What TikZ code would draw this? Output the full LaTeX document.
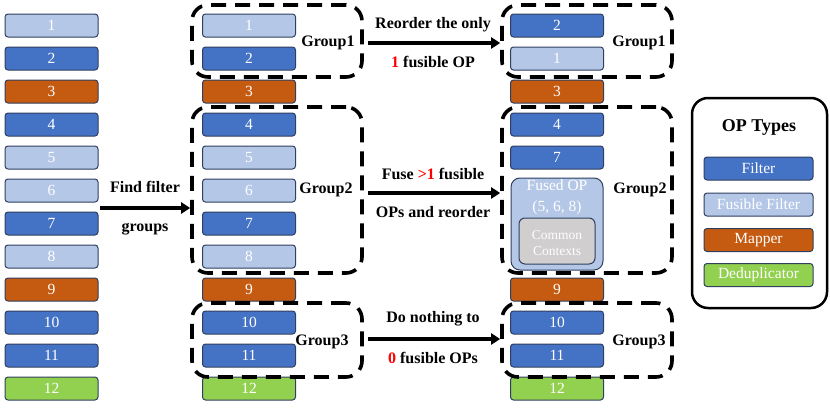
\documentclass[tikz,border=0pt]{standalone}
\usepackage{fontspec}
\setmainfont{Liberation Serif}
\usetikzlibrary{arrows.meta}
\definecolor{cfilter}{HTML}{4472C4}
\definecolor{cfus}{HTML}{B4C7E7}
\definecolor{cmap}{HTML}{C55A11}
\definecolor{cdedup}{HTML}{92D050}
\definecolor{cedge}{HTML}{2F3F5F}
\definecolor{cgray}{HTML}{D0CECE}
\begin{document}
\begin{tikzpicture}[x=1pt,y=-1pt,
 op/.style={draw=cedge, line width=1pt, rounded corners=3pt, minimum width=93pt, minimum height=23pt, inner sep=0pt, text=white, font=\fontsize{15.5}{15.5}\selectfont},
 filt/.style={op, fill=cfilter}, fus/.style={op, fill=cfus}, mapr/.style={op, fill=cmap}, dedup/.style={op, fill=cdedup},
 grp/.style={draw, line width=3.6pt, dash pattern=on 15pt off 9pt, rounded corners=16pt, minimum width=170pt, inner sep=0pt},
 lab/.style={font=\bfseries\fontsize{16}{16}\selectfont, inner sep=0pt},
 bigarrow/.style={line width=3.5pt, -{Triangle[length=9pt,width=11pt]}}]
\useasboundingbox (0,0) rectangle (830,410);
% left and middle columns
\foreach \i/\s in {1/fus,2/filt,3/mapr,4/filt,5/fus,6/fus,7/filt,8/fus,9/mapr,10/filt,11/filt,12/dedup}{
  \node[\s] (l\i) at (51.5,{25.5+33*(\i-1)}) {\i};
  \node[\s] (m\i) at (249,{25.5+33*(\i-1)}) {\i};
}
% right column
\node[filt] (r2) at (557,25.5) {2};
\node[fus] (r1) at (557,58.5) {1};
\node[mapr] (r3) at (557,91.5) {3};
\node[filt] (r4) at (557,124.5) {4};
\node[filt] (r7) at (557,157.5) {7};
\node[draw=cedge, fill=cfus, line width=1pt, rounded corners=9pt, minimum width=92pt, minimum height=92pt, inner sep=0pt] (fused) at (557,224) {};
\node[text=white, align=center, font=\fontsize{15.5}{21}\selectfont, inner sep=0pt] (fusedtxt) at (557,197) {Fused OP\\(5, 6, 8)};
\node[draw=cedge, fill=cgray, line width=1pt, rounded corners=6pt, minimum width=76pt, minimum height=46pt, inner sep=0pt] (common) at (557,241) {};
\node[text=white, align=center, font=\fontsize{13.5}{16}\selectfont, inner sep=0pt] (commontxt) at (557,243) {Common\\Contexts};
\node[mapr] (r9) at (557,289.5) {9};
\node[filt] (r10) at (557,322.5) {10};
\node[filt] (r11) at (557,355.5) {11};
\node[dedup] (r12) at (557,388.5) {12};
% groups
\node[grp, minimum height=72pt] (g1m) at (277,41) {};
\node[grp, minimum height=166pt] (g2m) at (277,190) {};
\node[grp, minimum height=74pt] (g3m) at (277,340) {};
\node[grp, minimum height=72pt] (g1r) at (587,41) {};
\node[grp, minimum height=166pt] (g2r) at (587,190) {};
\node[grp, minimum height=74pt] (g3r) at (587,340) {};
\node[lab] (t1m) at (328,43) {Group1};
\node[lab] (t2m) at (326,190) {Group2};
\node[lab] (t3m) at (322,342) {Group3};
\node[lab] (t1r) at (639,43) {Group1};
\node[lab] (t2r) at (640,190) {Group2};
\node[lab] (t3r) at (639,342) {Group3};
% arrows
\coordinate (fa) at (100,208);
\draw[bigarrow] (fa) -- (g2m.west |- fa);
\node[lab] (fa1) at (145,187) {Find filter};
\node[lab] (fa2) at (145,229) {groups};
\draw[bigarrow] (g1m.east) ++(4,2) coordinate (a1s) -- (a1s -| g1r.west);
\draw[bigarrow] (g2m.east) ++(4,3) coordinate (a2s) -- (a2s -| g2r.west);
\draw[bigarrow] (g3m.east) ++(4,-1) coordinate (a3s) -- (a3s -| g3r.west);
\node[lab] (a1t) at (433,25) {Reorder the only};
\node[lab] (a1b) at (433,62) {\textcolor{red}{1} fusible OP};
\node[lab] (a2t) at (433,174) {Fuse \textcolor{red}{>1} fusible};
\node[lab] (a2b) at (433,212) {OPs and reorder};
\node[lab] (a3t) at (433,319) {Do nothing to};
\node[lab] (a3b) at (433,358) {\textcolor{red}{0} fusible OPs};
% legend
\node[draw, line width=2.5pt, rounded corners=16pt, minimum width=135pt, minimum height=210pt, inner sep=0pt] (legend) at (759.5,203) {};
\node[font=\bfseries\fontsize{18}{18}\selectfont, inner sep=0pt] (legtitle) at (759,127) {OP Types};
\node[filt, minimum width=109pt] (k1) at (758.5,168.5) {Filter};
\node[fus, minimum width=109pt] (k2) at (758.5,204.5) {Fusible Filter};
\node[mapr, minimum width=109pt] (k3) at (758.5,240) {Mapper};
\node[dedup, minimum width=109pt] (k4) at (758.5,275) {Deduplicator};
\end{tikzpicture}
\end{document}
